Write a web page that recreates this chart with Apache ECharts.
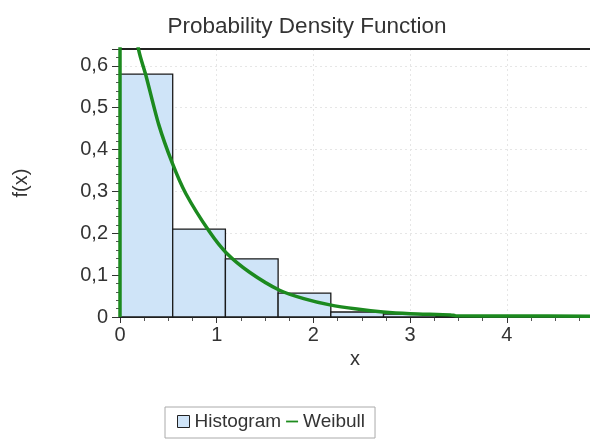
<!DOCTYPE html>
<html><head><meta charset="utf-8">
<script src="https://cdn.jsdelivr.net/npm/echarts@6/dist/echarts.min.js"></script>
<style>html,body{margin:0;padding:0;background:#fff}#c{width:590px;height:440px}</style>
</head><body><div id="c"></div>
<script>
// Histogram bins (x edges) and heights
const binStart = [0, 0.545, 1.09, 1.635, 2.18, 2.725, 3.27];
const binEnd   = [0.545, 1.09, 1.635, 2.18, 2.725, 3.27, 3.815];
const binHeight = [0.58, 0.21, 0.139, 0.057, 0.012, 0.007, 0.003];
// Weibull curve points
const weibullX = [0, 0.002, 0.1, 0.197, 0.27, 0.4, 0.54, 0.68, 0.924, 1.1, 1.34, 1.65, 1.9, 2.17, 2.45, 2.72, 3.0, 3.42, 3.47, 4.0, 4.9];
const weibullY = [0, 2.0, 0.76, 0.634, 0.575, 0.46, 0.368, 0.295, 0.204, 0.153, 0.107, 0.064, 0.044, 0.029, 0.019, 0.012, 0.008, 0.005, 0.003, 0.0025, 0.002];
const xTicks = [0, 1, 2, 3, 4];
const yTicks = [0, 0.1, 0.2, 0.3, 0.4, 0.5, 0.6];

const FONT = "'Liberation Sans', Arial, sans-serif";
const chart = echarts.init(document.getElementById('c'), null, {renderer: 'canvas'});
const histData = binStart.map((s, i) => [s, binEnd[i], binHeight[i]]);
const weibullData = weibullX.map((x, i) => [x, weibullY[i]]);

chart.setOption({
  animation: false,
  backgroundColor: '#fff',
  title: {
    text: 'Probability Density Function', left: 302, top: 10, textAlign: 'center',
    textStyle: {fontFamily: FONT, fontSize: 22.5, fontWeight: 'normal', color: '#333'}
  },
  legend: {
    left: 165, top: 407,
    borderColor: '#aaa', borderWidth: 1, padding: [5, 10, 7, 12],
    itemGap: 5, itemWidth: 12, itemHeight: 12,
    textStyle: {fontFamily: FONT, fontSize: 19, color: '#333'},
    data: [
      {name: 'Histogram', icon: 'rect', itemStyle: {color: '#cfe4f8', borderColor: '#222', borderWidth: 1}},
      {name: 'Weibull', icon: 'path://M0,5 H20 V8 H0 Z', itemStyle: {color: '#1e8c1e'}}
    ]
  },
  grid: {left: 120, top: 49, right: 0, bottom: 123, containLabel: false},
  xAxis: [{
    type: 'value', min: 0, max: 4.86, interval: 1,
    axisLine: {show: true, lineStyle: {color: '#333', width: 2}},
    axisTick: {show: true, length: 6, lineStyle: {color: '#333'}},
    minorTick: {show: true, splitNumber: 4, length: 4, lineStyle: {color: '#555'}},
    axisLabel: {fontFamily: FONT, fontSize: 20, color: '#333', margin: 8, showMaxLabel: false,
      formatter: v => xTicks.includes(v) ? String(v) : ''},
    splitLine: {show: true, lineStyle: {color: '#e6e6e6', type: [2, 3]}},
    name: 'x', nameLocation: 'middle', nameGap: 26,
    nameTextStyle: {fontFamily: FONT, fontSize: 20, color: '#333'}
  }, {
    type: 'value', position: 'top', min: 0, max: 4.86,
    axisLine: {show: true, onZero: false, lineStyle: {color: '#222', width: 2}},
    axisTick: {show: false}, axisLabel: {show: false}, splitLine: {show: false}
  }],
  yAxis: {
    type: 'value', min: 0, max: 0.64, interval: 0.1,
    axisLine: {show: true, lineStyle: {color: '#333', width: 2}},
    axisTick: {show: true, length: 8, lineStyle: {color: '#333'}},
    minorTick: {show: true, splitNumber: 5, length: 4, lineStyle: {color: '#555'}},
    axisLabel: {fontFamily: FONT, fontSize: 20, color: '#333', margin: 12, showMaxLabel: false,
      formatter: v => {
        const t = yTicks.find(y => Math.abs(y - v) < 1e-6);
        return t === undefined ? '' : String(t).replace('.', ',');
      }},
    splitLine: {show: true, lineStyle: {color: '#e6e6e6', type: [2, 3]}},
    name: 'f(x)', nameLocation: 'middle', nameGap: 89, nameRotate: 90,
    nameTextStyle: {fontFamily: FONT, fontSize: 20, color: '#333'}
  },
  series: [{
    name: 'Histogram', type: 'custom', xAxisIndex: 0,
    itemStyle: {color: '#cfe4f8'},
    encode: {x: [0, 1], y: 2},
    data: histData,
    renderItem: function (params, api) {
      const p0 = api.coord([api.value(0), api.value(2)]);
      const p1 = api.coord([api.value(1), 0]);
      return {
        type: 'rect',
        shape: {x: p0[0], y: p0[1], width: p1[0] - p0[0], height: p1[1] - p0[1]},
        style: {fill: '#cfe4f8', stroke: '#1a1a1a', lineWidth: 1.3}
      };
    }
  }, {
    name: 'Weibull', type: 'line', xAxisIndex: 0,
    data: weibullData, symbol: 'none', smooth: 0.25,
    clip: true,
    lineStyle: {color: '#1c8a1f', width: 3.5},
    itemStyle: {color: '#1c8a1f'}
  }]
});
</script></body></html>
